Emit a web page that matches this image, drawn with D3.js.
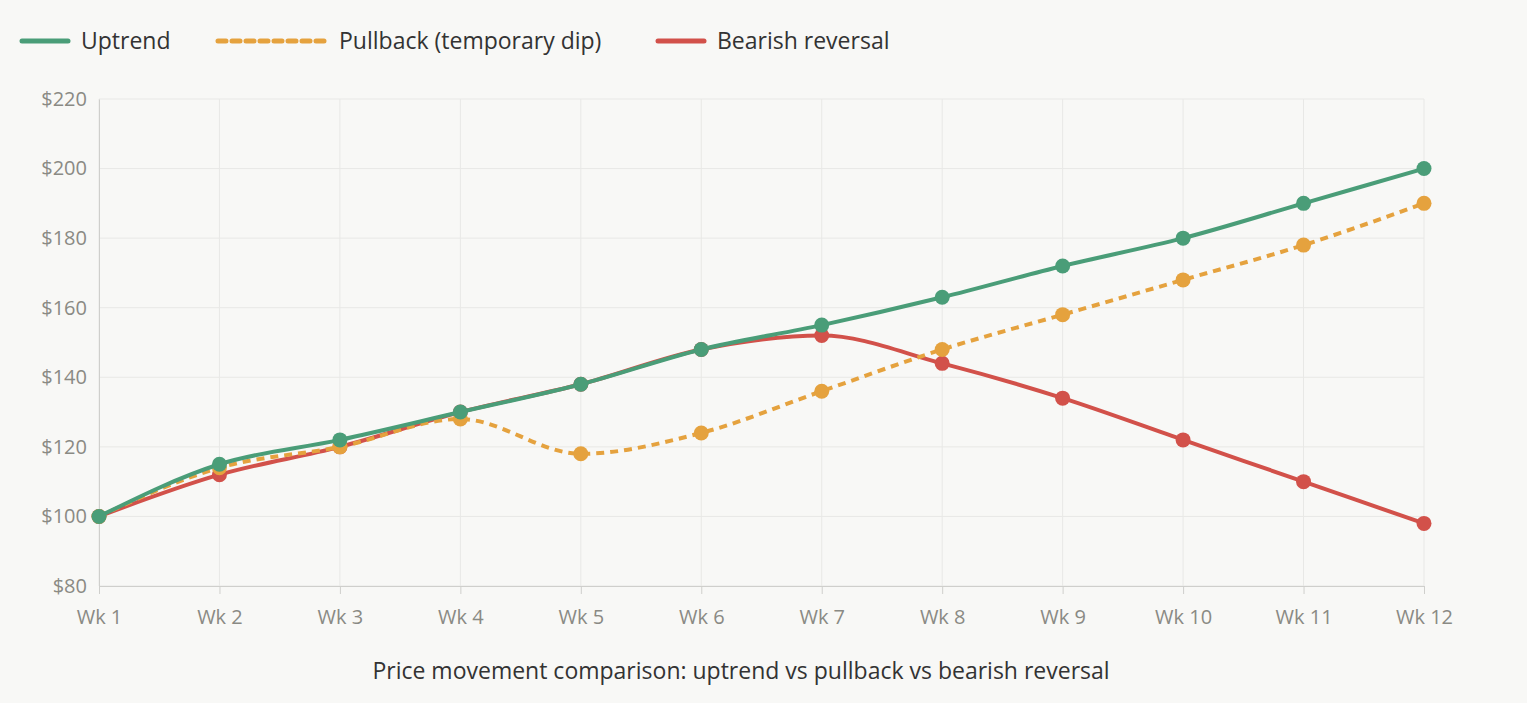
<!DOCTYPE html>
<html><head><meta charset="utf-8">
<script src="https://cdn.jsdelivr.net/npm/d3@7"></script>
<style>
body{margin:0;background:#f8f8f6;font-family:"Open Sans",sans-serif;}
</style></head>
<body><svg id="chart" width="1527" height="703"></svg>
<script>
const weeks = ['Wk 1','Wk 2','Wk 3','Wk 4','Wk 5','Wk 6','Wk 7','Wk 8','Wk 9','Wk 10','Wk 11','Wk 12'];
const uptrend = [100,115,122,130,138,148,155,163,172,180,190,200];
const pullback = [100,114,120,128,118,124,136,148,158,168,178,190];
const bearish = [100,112,120,130,138,148,152,144,134,122,110,98];
const yTicks = [80,100,120,140,160,180,200,220];

const series = [
  { name: 'Bearish reversal', values: bearish, color: '#d2514a', dash: null },
  { name: 'Pullback (temporary dip)', values: pullback, color: '#e5a23e', dash: '8,6' },
  { name: 'Uptrend', values: uptrend, color: '#4a9d78', dash: null },
];

const svg = d3.select('#chart');
const x = d3.scalePoint().domain(weeks).range([99, 1424]);
const y = d3.scaleLinear().domain([80, 220]).range([586, 99]);

// grid
svg.append('g').selectAll('line').data(yTicks).join('line')
  .attr('x1', 99).attr('x2', 1424).attr('y1', d => y(d)).attr('y2', d => y(d))
  .attr('stroke', '#e8e8e6');
svg.append('g').selectAll('line').data(weeks).join('line')
  .attr('x1', d => x(d)).attr('x2', d => x(d)).attr('y1', 99).attr('y2', 586)
  .attr('stroke', '#e8e8e6');

// axes
const yAxis = svg.append('g').attr('transform', 'translate(99,0)')
  .call(d3.axisLeft(y).tickValues(yTicks).tickFormat(d => '$' + d).tickSize(0).tickPadding(12));
const xAxis = svg.append('g').attr('transform', 'translate(0,586)')
  .call(d3.axisBottom(x).tickSize(8).tickPadding(16));
[xAxis, yAxis].forEach(a => {
  a.select('.domain').attr('stroke', '#cfcfcc');
  a.selectAll('line').attr('stroke', '#cfcfcc');
  a.selectAll('text').attr('fill', '#8a8a84').attr('font-size', 20).attr('font-family', '"Open Sans",sans-serif');
});

const line = d3.line().x((d, i) => x(weeks[i])).y(d => y(d)).curve(d3.curveMonotoneX);
series.forEach(s => {
  svg.append('path').datum(s.values).attr('d', line)
    .attr('fill', 'none').attr('stroke', s.color).attr('stroke-width', 4)
    .attr('stroke-dasharray', s.dash);
  svg.append('g').selectAll('circle').data(s.values).join('circle')
    .attr('cx', (d, i) => x(weeks[i])).attr('cy', d => y(d)).attr('r', 7.5)
    .attr('fill', s.color);
});

// legend
const legendItems = [
  { name: 'Uptrend', color: '#4a9d78', dash: null, x: 22, w: 46 },
  { name: 'Pullback (temporary dip)', color: '#e5a23e', dash: '8,6', x: 218, w: 108 },
  { name: 'Bearish reversal', color: '#d2514a', dash: null, x: 658, w: 46 },
];
const lg = svg.append('g').selectAll('g').data(legendItems).join('g')
  .attr('transform', d => `translate(${d.x},41)`);
lg.append('line').attr('x1', 0).attr('x2', d => d.w)
  .attr('stroke', d => d.color).attr('stroke-width', 5).attr('stroke-linecap', 'round')
  .attr('stroke-dasharray', d => d.dash);
lg.append('text').attr('x', d => d.w + 13).attr('dy', '0.35em').text(d => d.name)
  .attr('font-size', 23).attr('fill', '#333');

svg.append('text').attr('x', 741).attr('y', 679).attr('text-anchor', 'middle')
  .attr('font-size', 23).attr('fill', '#333')
  .text('Price movement comparison: uptrend vs pullback vs bearish reversal');
</script></body></html>
